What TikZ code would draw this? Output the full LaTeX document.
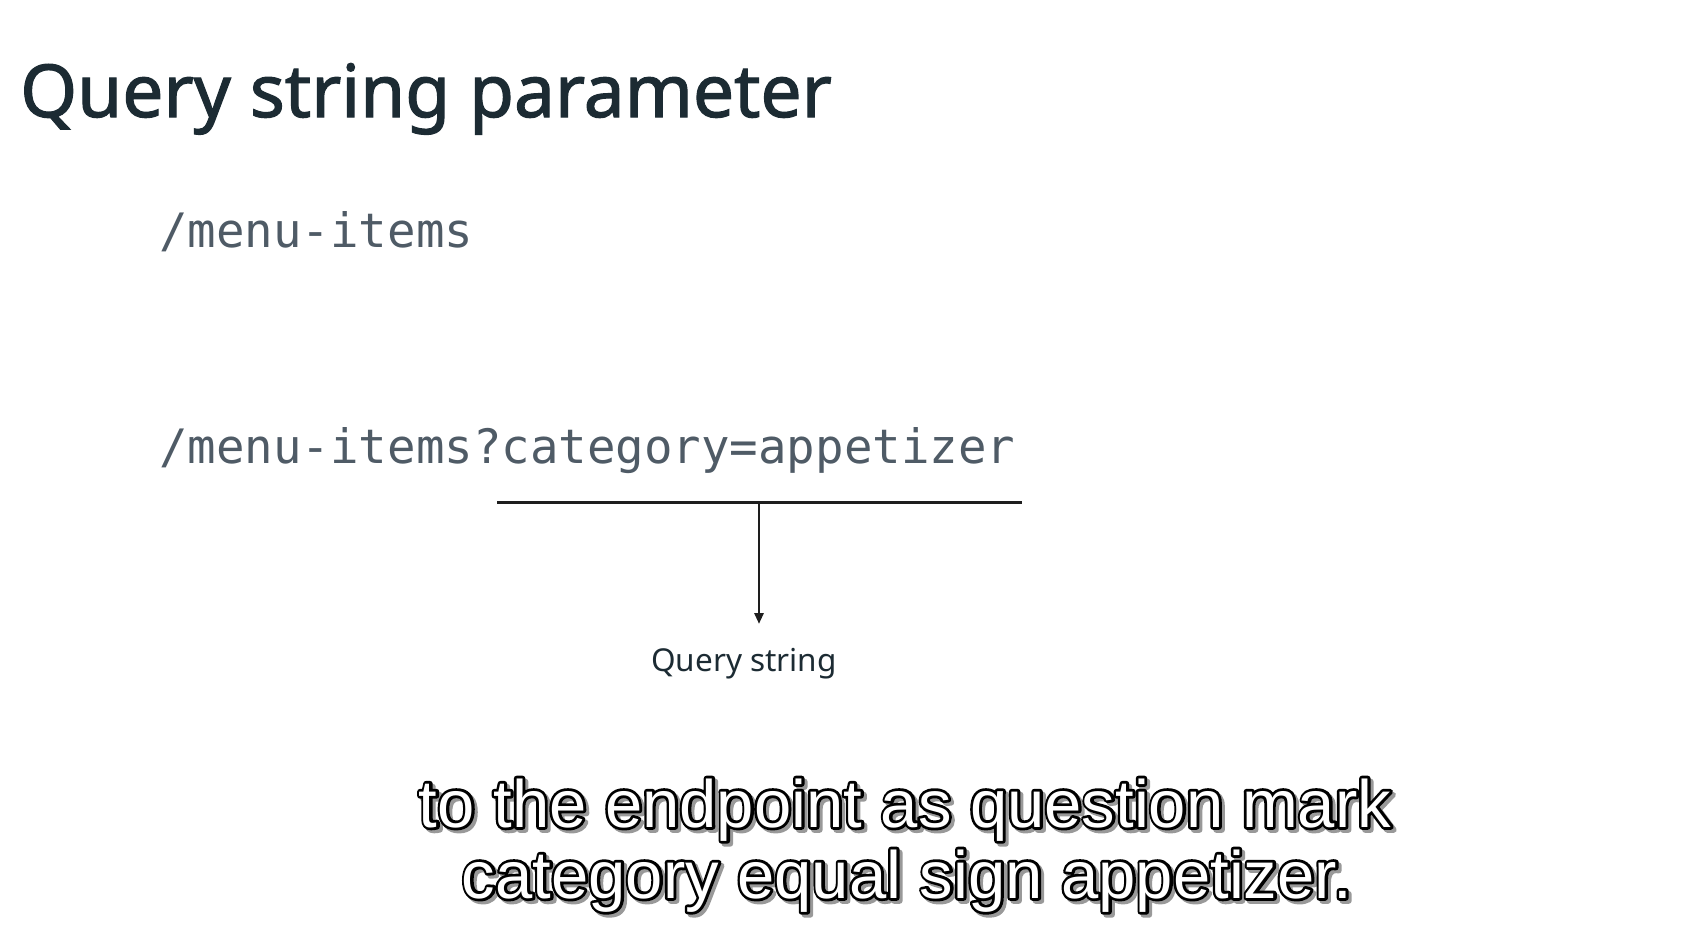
\documentclass[tikz,border=0pt]{standalone}
\usepackage{fontspec}
\setmainfont{Noto Sans}
\newfontfamily\titlefont[FakeBold=1.6]{Noto Sans}
\newfontfamily\codefont{DejaVu Sans Mono}
\newfontfamily\capfont{Liberation Sans}
\usetikzlibrary{arrows.meta,calc}
\definecolor{titlecol}{HTML}{1C2B33}
\definecolor{codecol}{HTML}{4F5B66}
\definecolor{linecol}{HTML}{1E1E1E}
% text render mode 2 (fill + stroke) with given stroke width and colours
\newcommand\strokedtext[3]{\special{pdf:literal direct 2 Tr #1 w 1 j #2 RG #3 rg}}
\tikzset{
  titletext/.style={anchor=base west,inner sep=0pt,text=titlecol,font=\titlefont\fontsize{73}{78}\selectfont},
  codetext/.style={anchor=base west,inner sep=0pt,text=codecol,font=\codefont\fontsize{47.4}{50}\selectfont},
  labeltext/.style={anchor=base,inner sep=0pt,text=titlecol,font=\fontsize{31.5}{34}\selectfont},
  barline/.style={draw=linecol,line width=3pt},
  arrowline/.style={draw=linecol,line width=2.8pt,-{Triangle[length=11pt,width=9pt]}},
  capbase/.style={anchor=base,inner sep=0pt,font=\capfont\fontsize{67}{70}\selectfont},
  capfill/.style={capbase,text=white},
}
\newcommand\outlinedcap[3]{%
  \node[capbase] (#1shadow) at ($(#2)+(3,3)$) {\strokedtext{5.5}{0.6 0.6 0.6}{0.6 0.6 0.6}#3};
  \node[capbase] (#1edge) at (#2) {\strokedtext{5.5}{0 0 0}{0 0 0}#3};
  \node[capfill] (#1) at (#2) {#3};}
\begin{document}
\begin{tikzpicture}[x=1pt,y=-1pt]
\useasboundingbox[fill=white] (0,0) rectangle (1701,927);
% captions first (outlined text via PDF text render mode)
\coordinate (cap1pos) at (905,827);
\coordinate (cap2pos) at (907,898);
\outlinedcap{cap1}{cap1pos}{to the endpoint as question mark}
\outlinedcap{cap2}{cap2pos}{category equal sign appetizer.}
% slide content
\node[titletext] (title) at (20,117) {Query string parameter};
\node[codetext] (path1) at (159,247) {/menu-items};
\node[codetext] (path2) at (159,463) {/menu-items?category=appetizer};
\coordinate (barL) at (497,502);
\coordinate (barR) at (1022,502);
\coordinate (barM) at (759,502);
\coordinate (tip) at (759,624);
\draw[barline] (barL) -- (barR);
\draw[arrowline] (barM) -- (tip);
\node[labeltext] (qs) at (744,671) {Query string};
\end{tikzpicture}
\end{document}
